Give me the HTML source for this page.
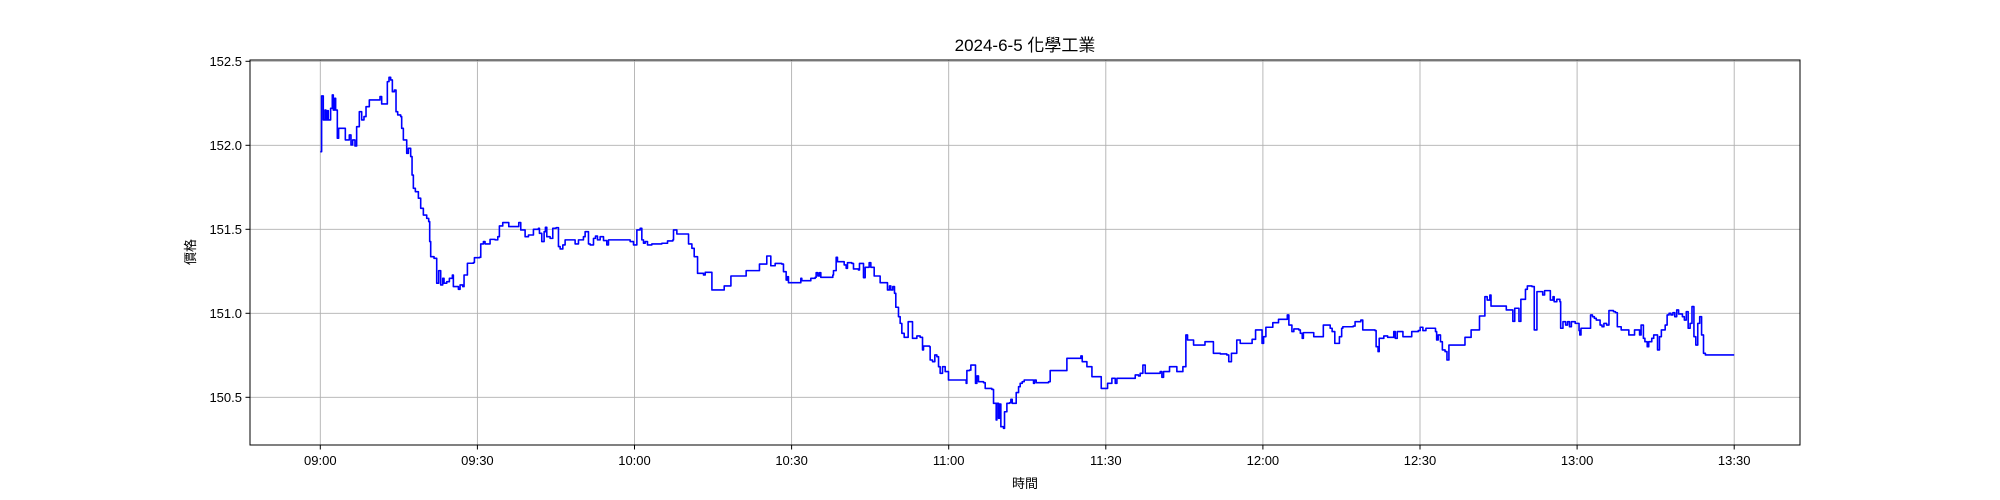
<!DOCTYPE html>
<html><head><meta charset="utf-8">
<style>
html,body{margin:0;padding:0;background:#fff;}
svg{display:block;font-family:"Liberation Sans","Noto Sans CJK TC",sans-serif;}
</style></head>
<body>
<svg id="chart" width="2000" height="500" viewBox="0 0 2000 500" xmlns="http://www.w3.org/2000/svg">
<rect x="0" y="0" width="2000" height="500" fill="#fff"/>
<g id="grid"></g>
<g id="series"></g>
<rect x="250" y="60" width="1550" height="385" fill="none" stroke="#000" stroke-width="1"/>
<g id="axes"></g>
<text x="1025" y="51" text-anchor="middle" font-size="17" fill="#000">2024-6-5 化學工業</text>
<text x="1025" y="488" text-anchor="middle" font-size="13" fill="#000">時間</text>
<text x="195" y="252" text-anchor="middle" font-size="13" fill="#000" transform="rotate(-90 195 252)">價格</text>
</svg>
<script>
const xTickValues = [0,30,60,90,120,150,180,210,240,270];
const xTickLabels = ["09:00","09:30","10:00","10:30","11:00","11:30","12:00","12:30","13:00","13:30"];
const yTickValues = [150.5,151.0,151.5,152.0,152.5];
const yTickLabels = ["150.5","151.0","151.5","152.0","152.5"];
// minutes after 09:00
const times = [0,0.25,0.57,0.89,1.08,1.34,1.53,1.85,1.97,2.29,2.48,2.74,2.93,3.25,3.5,4.08,4.71,4.78,5.35,5.54,5.86,6.18,6.62,6.94,7.45,7.9,8.34,8.73,9.36,11.08,11.4,11.72,12.68,12.8,13.12,13.44,13.76,14.14,14.46,14.78,15.35,15.54,15.86,16.5,16.82,17.26,17.52,17.77,18.15,18.73,19.17,19.68,20.32,20.7,20.89,21.08,21.72,22.23,22.61,22.99,23.38,23.63,24.14,24.65,25.22,25.41,26.05,26.37,26.69,27.2,27.45,27.96,28.09,29.24,29.43,30.38,30.64,31.15,31.46,32.29,32.42,33.38,33.89,34.2,34.84,35.61,35.99,37.9,38.28,39.11,39.75,40.7,41.66,41.85,42.29,42.74,42.99,43.25,43.89,44.39,45.03,45.48,45.8,46.31,46.75,47.39,48.34,48.66,49.3,50.25,50.57,51.21,51.53,52.17,52.55,52.93,53.44,54.08,54.71,55.03,57.26,59.17,59.81,60.45,61.08,61.4,61.72,62.04,62.48,63.31,65.22,66.31,67.32,67.45,68.09,69.87,70.32,70.96,71.4,72.04,73.18,73.5,74.46,74.78,77.01,77.13,78.28,78.41,80.19,
81.13,81.32,83.67,83.86,85.07,85.26,85.77,86.03,86.86,88.13,88.45,88.96,89.21,89.4,91.5,91.76,91.95,93.54,93.67,94.5,94.69,95.01,95.32,95.58,97.04,97.87,98.0,98.38,98.51,98.76,99.59,100.04,100.42,100.67,101.5,101.82,102.77,102.96,103.54,103.73,104.05,104.56,104.81,105.13,105.64,105.77,106.78,106.91,108.06,108.31,108.69,108.95,109.33,109.65,109.9,110.41,110.73,111.05,111.5,112.13,112.26,112.83,113.09,113.79,113.92,114.55,115.0,115.19,116.34,116.46,116.91,117.35,117.74,118.06,118.37,118.82,119.33,119.65,119.96,123.15,123.34,123.47,123.97,124.23,124.74,125.12,125.38,125.69,126.65,126.97,128.24,128.56,129.07,129.2,129.52,129.71,129.96,130.47,130.66,131.11,131.62,131.87,132.13,132.7,132.89,133.34,133.65,134.04,134.42,136.07,136.2,136.39,136.71,139.07,139.38,142.44,142.57,144.99,145.24,145.5,146.07,146.39,147.15,147.35,148.94,149.13,150.08,150.34,150.97,151.16,151.8,152.12,155.04,155.62,156.25,156.57,157.08,157.53,160.39,160.71,161.03,161.98,162.17,163.44,163.57,164.53,164.72,165.16,165.29,165.61,166.63,166.76,168.03,
168.73,168.94,170.04,170.55,171.87,173.11,173.48,173.99,174.72,175.01,175.67,177.65,177.94,178.38,178.6,179.55,179.84,180.13,180.57,181.74,181.89,182.47,182.98,184.44,184.66,184.96,185.54,185.91,186.86,187.15,187.51,187.73,189.56,189.71,191.24,191.54,192.85,193.22,193.73,194.31,194.61,195.04,195.26,197.24,197.6,198.33,198.7,199.07,201.41,201.62,201.99,202.21,203.09,203.82,204.7,204.99,205.28,205.65,206.52,206.74,208.21,208.42,209.67,210.03,210.55,211.13,212.59,212.96,213.18,213.47,213.91,214.27,214.79,215.15,215.52,218.44,218.59,219.17,219.76,221.0,221.36,222.1,222.39,222.83,223.34,223.56,225.9,226.48,227.51,227.73,228.09,228.46,228.9,229.26,229.77,230.14,230.5,231.38,231.82,232.33,233.06,233.43,233.79,234.52,234.89,235.4,235.62,236.13,236.72,236.86,237.3,237.81,238.18,238.55,238.91,239.64,240.37,240.52,240.74,242.2,242.57,242.93,243.3,243.66,244.39,244.76,245.12,245.64,246.08,246.95,247.32,247.68,248.42,249.51,249.88,250.61,250.97,251.49,251.93,252.22,252.66,252.95,253.39,253.68,254.26,254.63,255.36,255.73,256.09,256.82,257.19,257.56,257.92,258.29,258.65,259.02,259.38,260.11,260.48,260.85,261.21,261.58,261.94,262.31,262.67,263.04,263.41,263.77,264.14,264.5,270];
const prices = [151.962,152.294,152.151,152.21,152.151,152.206,152.151,152.151,152.22,152.3,152.21,152.28,152.21,152.042,152.101,152.101,152.101,152.032,152.032,152.062,152.002,152.032,151.996,152.111,152.2,152.151,152.171,152.23,152.27,152.27,152.29,152.246,152.246,152.379,152.405,152.389,152.319,152.329,152.2,152.181,152.171,152.101,152.032,151.952,151.982,151.933,151.823,151.744,151.724,151.685,151.625,151.585,151.565,151.546,151.427,151.337,151.327,151.179,151.254,151.169,151.208,151.179,151.188,151.208,151.228,151.159,151.159,151.143,151.169,151.159,151.228,151.228,151.298,151.302,151.331,151.333,151.413,151.427,151.413,151.413,151.44,151.437,151.456,151.52,151.54,151.54,151.516,151.54,151.496,151.456,151.466,151.5,151.506,151.476,151.427,151.486,151.512,151.456,151.446,151.506,151.51,151.397,151.383,151.407,151.437,151.437,151.437,151.413,151.437,151.456,151.486,151.413,151.407,151.446,151.46,151.437,151.456,151.433,151.407,151.437,151.437,151.427,151.407,151.496,151.506,151.437,151.417,151.427,151.407,151.413,151.417,151.431,151.437,151.496,151.472,151.472,151.413,151.387,151.337,151.238,151.228,151.244,151.244,151.139,151.139,151.163,151.163,151.222,151.222,
151.222,151.254,151.254,151.293,151.293,151.341,151.341,151.283,151.297,151.293,151.248,151.198,151.218,151.182,151.182,151.208,151.194,151.194,151.208,151.214,151.242,151.222,151.242,151.214,151.214,151.228,151.254,151.254,151.333,151.307,151.307,151.288,151.268,151.301,151.297,151.264,151.258,151.297,151.297,151.212,151.274,151.274,151.301,151.274,151.274,151.222,151.222,151.182,151.182,151.139,151.163,151.139,151.159,151.119,151.036,150.98,150.94,150.881,150.857,150.857,150.95,150.95,150.851,150.851,150.865,150.857,150.782,150.805,150.801,150.722,150.712,150.752,150.742,150.682,150.643,150.682,150.653,150.653,150.603,150.603,150.583,150.659,150.662,150.692,150.692,150.583,150.627,150.593,150.587,150.553,150.547,150.464,150.365,150.464,150.375,150.46,150.325,150.315,150.414,150.464,150.468,150.488,150.464,150.464,150.528,150.563,150.583,150.593,150.603,150.603,150.583,150.603,150.587,150.593,150.659,150.659,150.732,150.732,150.746,150.712,150.712,150.682,150.682,150.623,150.623,150.553,150.553,150.583,150.583,150.613,150.583,150.613,150.613,150.633,150.627,150.643,150.692,150.643,150.653,150.619,150.653,150.653,150.682,150.682,150.653,150.653,150.682,150.682,150.871,150.841,150.841,150.811,150.811,
150.811,150.831,150.831,150.762,150.758,150.752,150.712,150.762,150.762,150.841,150.821,150.821,150.845,150.845,150.901,150.901,150.821,150.861,150.917,150.917,150.944,150.944,150.964,150.964,150.99,150.93,150.891,150.907,150.901,150.881,150.851,150.885,150.885,150.861,150.861,150.93,150.911,150.891,150.821,150.821,150.861,150.911,150.92,150.924,150.95,150.95,150.96,150.901,150.897,150.801,150.772,150.851,150.865,150.857,150.857,150.891,150.851,150.891,150.891,150.861,150.861,150.891,150.897,150.917,150.897,150.911,150.911,150.891,150.841,150.871,150.831,150.782,150.772,150.722,150.811,150.811,150.857,150.857,150.901,150.901,150.984,150.984,151.099,151.079,151.109,151.043,151.043,151.02,151.02,150.952,151.03,151.03,150.952,151.083,151.083,151.143,151.163,151.159,150.901,151.129,151.129,151.109,151.135,151.135,151.079,151.099,151.069,151.083,151.069,150.911,150.95,150.93,150.95,150.92,150.95,150.94,150.897,150.871,150.911,150.911,150.99,150.98,150.97,150.96,150.93,150.92,150.94,150.93,151.016,151.01,151.004,150.92,150.901,150.901,150.871,150.871,150.901,150.901,150.871,150.93,150.851,150.831,150.801,150.831,150.851,150.871,150.782,150.861,150.901,150.93,150.99,151.0,150.99,151.004,150.98,151.02,150.996,150.98,150.96,151.01,150.911,150.94,151.04,150.861,150.811,150.94,150.98,150.871,150.762,150.752,150.752];

const NS = "http://www.w3.org/2000/svg";
function xScale(m){ return 320.3 + m * (157.1/30); }
function yScale(v){ return 145.3 - (v - 152) * 168; }

const grid = document.getElementById('grid');
const axes = document.getElementById('axes');
const series = document.getElementById('series');

xTickValues.forEach((t,i)=>{
  const x = xScale(t);
  const gl = document.createElementNS(NS,'line');
  gl.setAttribute('x1',x); gl.setAttribute('x2',x); gl.setAttribute('y1',60); gl.setAttribute('y2',445);
  gl.setAttribute('stroke','#b0b0b0'); gl.setAttribute('stroke-width','0.9');
  
  
  grid.appendChild(gl);
  const tk = document.createElementNS(NS,'line');
  tk.setAttribute('x1',x); tk.setAttribute('x2',x); tk.setAttribute('y1',445); tk.setAttribute('y2',449.5);
  tk.setAttribute('stroke','#000'); tk.setAttribute('stroke-width','1');
  
  
  axes.appendChild(tk);
  const tx = document.createElementNS(NS,'text');
  tx.setAttribute('x',x); tx.setAttribute('y',465); tx.setAttribute('text-anchor','middle');
  tx.setAttribute('font-size','13'); tx.textContent = xTickLabels[i];
  
  
  axes.appendChild(tx);
});
yTickValues.forEach((v,i)=>{
  const y = yScale(v);
  const gl = document.createElementNS(NS,'line');
  gl.setAttribute('x1',250); gl.setAttribute('x2',1800); gl.setAttribute('y1',y); gl.setAttribute('y2',y);
  gl.setAttribute('stroke','#b0b0b0'); gl.setAttribute('stroke-width','0.9');
  
  
  grid.appendChild(gl);
  const tk = document.createElementNS(NS,'line');
  tk.setAttribute('x1',245.5); tk.setAttribute('x2',250); tk.setAttribute('y1',y); tk.setAttribute('y2',y);
  tk.setAttribute('stroke','#000'); tk.setAttribute('stroke-width','1');
  
  
  axes.appendChild(tk);
  const tx = document.createElementNS(NS,'text');
  tx.setAttribute('x',242); tx.setAttribute('y',y+4.5); tx.setAttribute('text-anchor','end');
  tx.setAttribute('font-size','13'); tx.textContent = yTickLabels[i];
  
  
  axes.appendChild(tx);
});

let d = '';
times.forEach((t,i)=>{
  const x = xScale(t).toFixed(2), y = yScale(prices[i]).toFixed(2);
  if(i===0){ d += 'M'+x+','+y; }
  else { d += 'H'+x+'V'+y; }
});
const path = document.createElementNS(NS,'path');
path.setAttribute('d', d);
path.setAttribute('fill','none'); path.setAttribute('stroke','#0000ff');
path.setAttribute('stroke-width','1.6'); path.setAttribute('stroke-linejoin','round');


series.appendChild(path);
</script>
</body></html>
